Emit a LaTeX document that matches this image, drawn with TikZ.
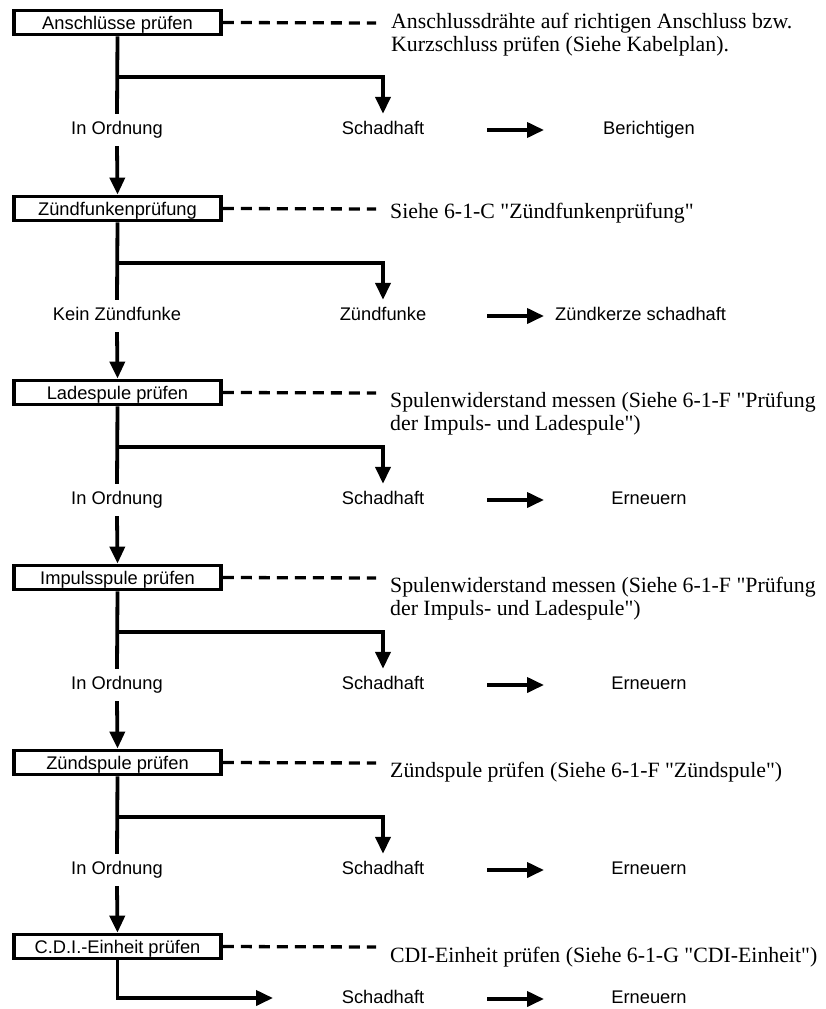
\documentclass[tikz,border=0pt]{standalone}
\usepackage{fontspec}
\setmainfont{Liberation Serif}[Ligatures=TeXOff]
\newfontfamily\sansf{Liberation Sans}[Ligatures=TeXOff]
\usetikzlibrary{arrows.meta}
\begin{document}
\begin{tikzpicture}[x=1pt,y=-1pt,
  box/.style={draw,line width=3.8pt,minimum width=207pt,minimum height=24pt,inner sep=0pt,
    text height=13pt,text depth=0pt,
    font=\sansf\fontsize{18.3}{20}\selectfont},
  lbl/.style={inner sep=0pt,minimum height=32pt,text height=13.5pt,text depth=4pt,
    font=\sansf\fontsize{18.3}{20}\selectfont},
  note/.style={anchor=base west,inner sep=0pt,font=\fontsize{21.8}{23}\selectfont},
  conn/.style={line width=3.8pt},
  arr/.style={conn,-{Triangle[length=17pt,width=15pt]}},
  dsh/.style={line width=3.3pt,dash pattern=on 11pt off 7pt}
]
\useasboundingbox (0,0) rectangle (825,1009);

% ---------- boxes ----------
\node[box] (B1) at (117.5,22.5) {Anschlüsse prüfen};
\node[box] (B2) at (117.5,208.5) {Zündfunkenprüfung};
\node[box] (B3) at (117.5,392.5) {Ladespule prüfen};
\node[box] (B4) at (117.5,577.5) {Impulsspule prüfen};
\node[box] (B5) at (117.5,762.5) {Zündspule prüfen};
\node[box] (B6) at (117.5,946.5) {C.D.I.-Einheit prüfen};

% ---------- notes ----------
\node[note] (N1a) at (391,28) {Anschlussdrähte auf richtigen Anschluss bzw.};
\node[note] (N1b) at (391,51) {Kurzschluss prüfen (Siehe Kabelplan).};
\node[note] (N2) at (390,218) {Siehe 6-1-C "Zündfunkenprüfung"};
\node[note] (N3a) at (390,407) {Spulenwiderstand messen (Siehe 6-1-F "Prüfung};
\node[note] (N3b) at (390,430) {der Impuls- und Ladespule")};
\node[note] (N4a) at (390,592) {Spulenwiderstand messen (Siehe 6-1-F "Prüfung};
\node[note] (N4b) at (390,615) {der Impuls- und Ladespule")};
\node[note] (N5) at (390,777) {Zündspule prüfen (Siehe 6-1-F "Zündspule")};
\node[note] (N6) at (390,962) {CDI-Einheit prüfen (Siehe 6-1-G "CDI-Einheit")};

\foreach \i/\y in {1/23,2/209,3/393,4/578,5/763,6/947}{
  \coordinate (D\i) at (376,\y);
  \draw[dsh] (B\i.east) -- (D\i);
}

% ---------- labels ----------
\node[lbl] (L1) at (117,130) {In Ordnung};
\node[lbl] (R1) at (383,130) {Schadhaft};
\node[lbl] (X1) at (649,130) {Berichtigen};
\node[lbl] (L2) at (117,316) {Kein Zündfunke};
\node[lbl] (R2) at (383,316) {Zündfunke};
\node[lbl,anchor=west] (X2) at (555,316) {Zündkerze schadhaft};
\node[lbl] (L3) at (117,500) {In Ordnung};
\node[lbl] (R3) at (383,500) {Schadhaft};
\node[lbl] (X3) at (649,500) {Erneuern};
\node[lbl] (L4) at (117,685) {In Ordnung};
\node[lbl] (R4) at (383,685) {Schadhaft};
\node[lbl] (X4) at (649,685) {Erneuern};
\node[lbl] (L5) at (117,870) {In Ordnung};
\node[lbl] (R5) at (383,870) {Schadhaft};
\node[lbl] (X5) at (649,870) {Erneuern};
\node[lbl] (R6) at (383,999) {Schadhaft};
\node[lbl] (X6) at (649,999) {Erneuern};

% ---------- branches ----------
\foreach \i/\t in {1/9,2/195,3/379,4/564,5/749}{
  \coordinate (J\i) at (117,\t+68);
  \draw[conn] (B\i.south) -- (L\i.north);
  \draw[arr] (J\i) -| (R\i.north);
}
\draw[arr] (L1.south) -- (B2.north);
\draw[arr] (L2.south) -- (B3.north);
\draw[arr] (L3.south) -- (B4.north);
\draw[arr] (L4.south) -- (B5.north);
\draw[arr] (L5.south) -- (B6.north);

\coordinate (E6) at (273,998);
\draw[arr] (B6.south) |- (E6);

% ---------- result arrows ----------
\foreach \i/\y in {1/130,2/316,3/500,4/685,5/870,6/999}{
  \coordinate (S\i) at (487,\y);
  \coordinate (T\i) at (544,\y);
  \draw[arr] (S\i) -- (T\i);
}
\end{tikzpicture}
\end{document}
